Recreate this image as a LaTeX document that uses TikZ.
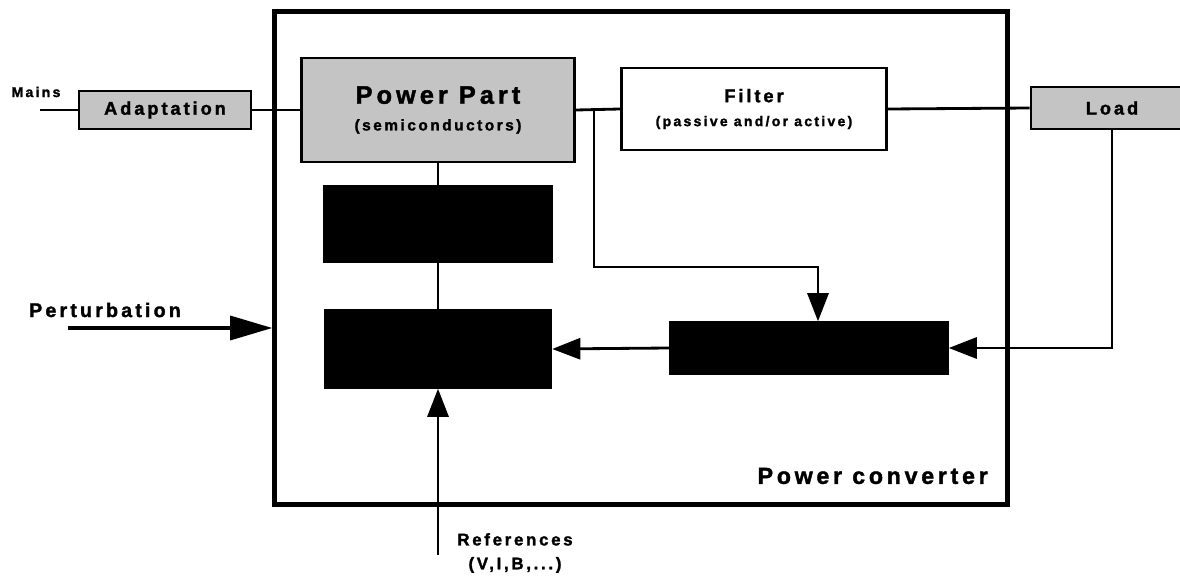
\documentclass[tikz,border=0pt]{standalone}
\usepackage{fontspec}
\setmainfont{Liberation Sans}
\newfontfamily\spaced{Liberation Sans}[LetterSpace=16, FakeBold=1.6]
\usetikzlibrary{positioning, arrows.meta, calc}
\definecolor{halftone}{RGB}{196,196,196}

\begin{document}
\begin{tikzpicture}[x=0.025cm, y=-0.025cm,
    frame/.style={draw, line width=3.6pt, inner sep=0pt},
    box/.style={draw, line width=2pt, fill=halftone, inner sep=0pt, align=center,
                font=\spaced\bfseries\fontsize{13}{15}\selectfont},
    plain/.style={box, fill=white, font=\spaced\bfseries\fontsize{13}{15}\selectfont},
    blk/.style={draw, line width=1pt, fill=black, inner sep=0pt},
    tag/.style={inner sep=0pt, align=center, font=\spaced\bfseries\fontsize{14}{17}\selectfont},
    wire/.style={line width=2pt},
    arr/.style={wire, -{Triangle[length=20pt, width=15pt]}},
    bigarr/.style={wire, line width=2.6pt, -{Triangle[length=30pt, width=17pt]}}
  ]
  \useasboundingbox (0,0) rectangle (1180,578);
  \node[frame, minimum width=18.3cm, minimum height=12.3cm] (conv) at (641,258) {};
  \node[tag, anchor=east, font=\spaced\bfseries\fontsize{16.5}{18}\selectfont] (convlbl) at (988,476) {Power converter};

  \node[box, minimum width=4.3cm, minimum height=0.95cm] (adapt) at (165,110) {Adaptation};
  \node[box, minimum width=6.825cm, minimum height=2.6cm] (power) at (438,110)
    {\fontsize{18}{20}\selectfont Power Part\\[4pt] \fontsize{11}{13}\selectfont (semiconductors)};
  \node[plain, minimum width=6.625cm, minimum height=2.05cm] (filter) at (754,109)
    {Filter\\[2pt] \fontsize{10}{12}\selectfont (passive and/or active)};
  \node[box, minimum width=4.05cm, minimum height=1.05cm] (load) at (1112,108) {Load};

  \node[blk, minimum width=5.7cm, minimum height=1.925cm] (drv) at (438,224) {};
  \node[blk, minimum width=5.675cm, minimum height=1.95cm] (ctrl) at (438,349) {};
  \node[blk, minimum width=6.95cm, minimum height=1.3cm] (meas) at (809,348) {};

  \node[tag, font=\spaced\bfseries\fontsize{10}{12}\selectfont] (mains) at (36,92) {Mains};
  \node[tag] (pert) at (105,310) {Perturbation};
  \node[tag, font=\spaced\bfseries\fontsize{12}{17}\selectfont] (refs) at (515,553) {References\\(V,I,B,...)};

  \coordinate (mainsin) at (40,110);
  \coordinate (pertin) at (68,328);
  \coordinate (refin) at (438,555);
  \coordinate (br) at (594,110);
  \coordinate (bend) at (818,267);

  \draw[wire] (mainsin) -- (adapt.west);
  \draw[wire] (adapt.east) -- (power.west);
  \draw[wire] (power.east) -- (filter.west);
  \draw[wire] (filter.east) -- (load.west);
  \draw[wire] (power.south) -- (drv.north);
  \draw[wire] (drv.south) -- (ctrl.north);
  \draw[arr] (br) |- (bend) -- (bend |- meas.north);
  \draw[arr] (load.south) |- (meas.east);
  \draw[arr] (meas.west) -- (ctrl.east);
  \draw[arr] (refin) -- (ctrl.south);
  \draw[bigarr] (pertin) -- (pertin -| conv.west);
\end{tikzpicture}
\end{document}
